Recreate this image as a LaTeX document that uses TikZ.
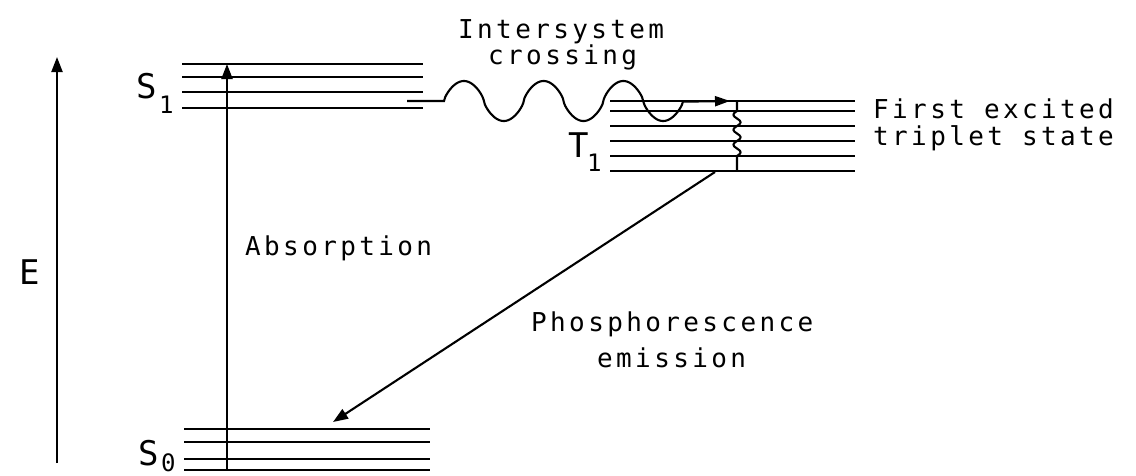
\documentclass[tikz,border=0pt]{standalone}
\usepackage{fontspec}
\usetikzlibrary{arrows.meta}
\newfontfamily\plotfont{DejaVu Sans Mono}[LetterSpace=13]
\newfontfamily\bigfont{DejaVu Sans Mono}
\tikzset{
  level/.style={line width=2.5pt},
  conn/.style={line width=2.1pt, -{Triangle[length=15pt,width=11pt]}},
  wig/.style={line width=2.1pt},
  txt/.style={font=\plotfont\fontsize{26}{26}\selectfont, inner sep=0pt, anchor=base west},
  big/.style={font=\bigfont\fontsize{34}{34}\selectfont, inner sep=0pt, anchor=base west},
  sub/.style={font=\bigfont\fontsize{24}{24}\selectfont, inner sep=0pt, anchor=base west}
}
\begin{document}
\begin{tikzpicture}[x=1pt,y=-1pt]
\useasboundingbox (0,0) rectangle (1136,475);
% levels
\foreach \y [count=\i] in {64,77,92,108} {
  \coordinate (S1L\i) at (182,\y); \coordinate (S1R\i) at (423,\y);
  \draw[level] (S1L\i) -- (S1R\i);
}
\foreach \y [count=\i] in {429,442,459,470} {
  \coordinate (S0L\i) at (184,\y); \coordinate (S0R\i) at (430,\y);
  \draw[level] (S0L\i) -- (S0R\i);
}
\foreach \y [count=\i] in {101,111,126,141,156,171} {
  \coordinate (T1L\i) at (610,\y); \coordinate (T1R\i) at (855,\y);
  \draw[level] (T1L\i) -- (T1R\i);
}
% energy axis
\coordinate (axBot) at (57,463);
\coordinate (axTop) at (57,57);
\draw[conn] (axBot) -- (axTop);
\node[big] (E) at (19,284) {E};
% absorption
\coordinate (absBot) at (227,470);
\coordinate (absTop) at (227,64);
\draw[conn] (absBot) -- (absTop);
\node[txt] (abs) at (245,255) {Absorption};
% state labels
\node[big] (S1) at (136,98) {S};
\node[sub] (S1s) at (159,113) {1};
\node[big] (S0) at (138,465) {S};
\node[sub] (S0s) at (161,471) {0};
\node[big] (T1) at (568,157) {T};
\node[sub] (T1s) at (587,171) {1};
% intersystem crossing
\coordinate (iscA) at (407,101);
\coordinate (iscB) at (444,101);
\coordinate (iscEnd) at (730,101);
\draw[wig, -{Triangle[length=15pt,width=10pt]}] (iscA) -- (iscB)
  -- plot[domain=0:239, samples=200] (444+\x, {101-20*sign(sin(4.517*\x))*pow(abs(sin(4.517*\x))+0.0001,0.7)})
  -- (iscEnd);
\node[txt] (isc1) at (458,38) {Intersystem};
\node[txt] (isc2) at (488,64) {crossing};
% internal conversion wiggle
\coordinate (icTop) at (737,101);
\coordinate (icA) at (737,111);
\coordinate (icBot) at (737,171);
\draw[wig] (icTop) -- (icA)
  -- plot[domain=0:45, samples=60] ({737-3.5*sin(24*\x)}, 111+\x)
  -- (icBot);
% triplet label
\node[txt] (trip1) at (873,118) {First excited};
\node[txt] (trip2) at (873,145) {triplet state};
% phosphorescence
\coordinate (phStart) at (715,172);
\coordinate (phEnd) at (333,422);
\draw[conn] (phStart) -- (phEnd);
\node[txt] (ph1) at (531,331) {Phosphorescence};
\node[txt] (ph2) at (597,367) {emission};
\end{tikzpicture}
\end{document}
